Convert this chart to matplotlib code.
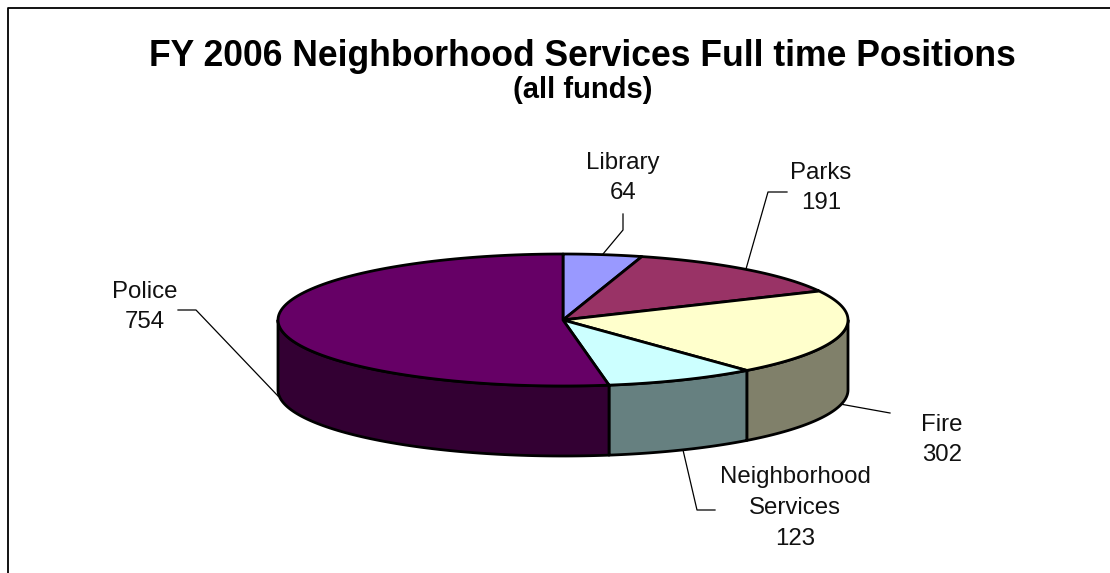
import numpy as np
import matplotlib
matplotlib.use('Agg')
import matplotlib.pyplot as plt
from matplotlib.patches import Polygon

labels = ['Library', 'Parks', 'Fire', 'Neighborhood\nServices', 'Police']
positions = [64, 191, 302, 123, 754]
top_colors = ['#9999FF', '#993366', '#FFFFCC', '#CCFFFF', '#660066']
side_colors = ['#5C5C99', '#5C1F3D', '#80806A', '#668080', '#330033']

# label centres and leader lines, in pixels
label_xy = [(623, 178), (821, 188), (942, 440), (795, 508), (145, 307)]
leaders = [
    [(623, 214), (623, 230), (603, 254)],
    [(787, 192), (768, 192), (746, 269)],
    [(890, 413), (840, 404)],
    [(715, 510), (697, 510), (683, 450)],
    [(178, 310), (196, 310), (278, 396)],
]

cx, cy = 563, 320
rx, ry = 285, 66
depth = 70

fig = plt.figure(figsize=(11.10, 5.73), dpi=100)
ax = fig.add_axes([0, 0, 1, 1])
ax.set_xlim(0, 1110)
ax.set_ylim(573, 0)
ax.axis('off')


def rim(t):
    # t is degrees clockwise from twelve o'clock
    a = np.radians(t)
    return np.column_stack([cx + rx * np.sin(a), cy - ry * np.cos(a)])


edges = np.concatenate([[0], np.cumsum(positions)]) / sum(positions) * 360

# side walls first, only the front half of the rim is visible
for i in range(len(positions)):
    start = max(edges[i], 90)
    end = min(edges[i + 1], 270)
    if start >= end:
        continue
    upper = rim(np.linspace(start, end, 80))
    lower = upper[::-1] + [0, depth]
    ax.add_patch(Polygon(np.vstack([upper, lower]), closed=True, fc=side_colors[i],
                         ec='black', lw=2, joinstyle='round', zorder=2))

# top of the pie
for i in range(len(positions)):
    arc = rim(np.linspace(edges[i], edges[i + 1], 120))
    ax.add_patch(Polygon(np.vstack([[cx, cy], arc]), closed=True, fc=top_colors[i],
                         ec='black', lw=2, joinstyle='round', zorder=3))

for line in leaders:
    xs, ys = zip(*line)
    ax.plot(xs, ys, color='black', lw=0.9, zorder=1)

for lab, val, (x, y) in zip(labels, positions, label_xy):
    ax.text(x, y, f'{lab}\n{val}', ha='center', va='center', fontsize=17.3,
            family='Liberation Sans', linespacing=1.52, color='#111111')

ax.text(582, 57, 'FY 2006 Neighborhood Services Full time Positions', ha='center', va='center',
        fontsize=25.6, fontweight='bold', family='Liberation Sans')
ax.text(583, 90, '(all funds)', ha='center', va='center',
        fontsize=21, fontweight='bold', family='Liberation Sans')

# chart frame, open on the right and running off the bottom
ax.plot([8, 8, 1110], [573, 8, 8], color='black', lw=1.3)

fig.savefig('out.png', dpi=100)
